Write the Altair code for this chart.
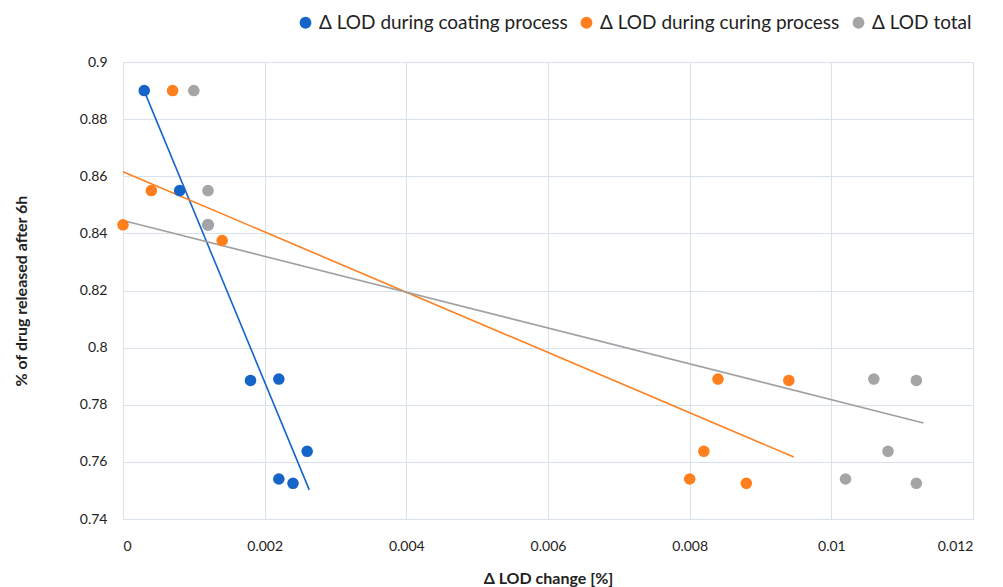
import altair as alt
import pandas as pd

series_names = ["Δ LOD during coating process", "Δ LOD during curing process", "Δ LOD total"]
series_colors = ["#1565C8", "#FF7F1E", "#A5A5A5"]
line_colors = ["#1565C8", "#FF7F1E", "#A0A0A0"]

# coating process
coat_x = [0.0003, 0.0008, 0.0012, 0.0018, 0.0022, 0.0026, 0.0022, 0.0024]
coat_y = [0.890, 0.855, 0.843, 0.7885, 0.789, 0.7637, 0.754, 0.7525]
# curing process
cure_x = [0.0007, 0.0004, 0.0, 0.0014, 0.0084, 0.0094, 0.0082, 0.0080, 0.0088]
cure_y = [0.890, 0.855, 0.843, 0.8375, 0.789, 0.7885, 0.7637, 0.754, 0.7525]
# total
tot_x = [0.0010, 0.0012, 0.0012, 0.0106, 0.0112, 0.0108, 0.0102, 0.0112]
tot_y = [0.890, 0.855, 0.843, 0.789, 0.7885, 0.7637, 0.754, 0.7525]

# linear trendline end points
trend_x0 = [0.0003, 0.0, 0.0]
trend_y0 = [0.8898, 0.8616, 0.8445]
trend_x1 = [0.00263, 0.00947, 0.0113]
trend_y1 = [0.7502, 0.7617, 0.7736]

x_ticks = [0, 0.002, 0.004, 0.006, 0.008, 0.01, 0.012]
y_ticks = [0.74, 0.76, 0.78, 0.8, 0.82, 0.84, 0.86, 0.88, 0.9]

rows = []
for name, xs, ys in zip(series_names, [coat_x, cure_x, tot_x], [coat_y, cure_y, tot_y]):
    for xv, yv in zip(xs, ys):
        rows.append({"series": name, "x": xv, "y": yv})
pts = pd.DataFrame(rows)

trows = []
for i, name in enumerate(series_names):
    trows.append({"series": name, "x": trend_x0[i], "y": trend_y0[i], "o": 0})
    trows.append({"series": name, "x": trend_x1[i], "y": trend_y1[i], "o": 1})
trend = pd.DataFrame(trows)

FONT = "Lato"
grid = "#D9E1EA"

xenc = alt.X("x:Q", scale=alt.Scale(domain=[0, 0.012], nice=False),
             axis=alt.Axis(values=x_ticks, format="~g", title="Δ LOD change [%]",
                           grid=True, gridColor=grid, domainColor=grid, ticks=False,
                           labelFontSize=14, labelPadding=20, labelColor="#222",
                           titleFontSize=16, titleFontWeight="bold", titlePadding=17,
                           titleColor="#222", labelFont=FONT, titleFont=FONT))
yenc = alt.Y("y:Q", scale=alt.Scale(domain=[0.74, 0.9], nice=False, zero=False),
             axis=alt.Axis(values=y_ticks, format="~g", title="% of drug released after 6h",
                           grid=True, gridColor=grid, domainColor=grid, ticks=False,
                           labelFontSize=14, labelPadding=16, labelColor="#222",
                           titleFontSize=16, titleFontWeight="bold", titlePadding=50,
                           titleColor="#222", labelFont=FONT, titleFont=FONT))

lines = alt.Chart(trend).mark_line(strokeWidth=1.6).encode(
    x=xenc, y=yenc, order="o:Q",
    color=alt.Color("series:N", scale=alt.Scale(domain=series_names, range=line_colors), legend=None),
    detail="series:N",
)

points = alt.Chart(pts).mark_circle(size=135, opacity=1).encode(
    x=xenc, y=yenc,
    color=alt.Color("series:N", scale=alt.Scale(domain=series_names, range=series_colors),
                    legend=alt.Legend(orient="none", legendX=173, legendY=-49, direction="horizontal",
                                      title=None, labelFontSize=19, labelFont=FONT, labelColor="#222",
                                      labelLimit=0,
                                      symbolType="circle", symbolSize=140, columnPadding=9,
                                      labelOffset=4)),
    order=alt.Order("series:N"),
)

chart = alt.layer(lines, points).resolve_scale(color="independent").properties(
    width=850, height=457
).configure_view(stroke=None).configure(background="white")

chart.save("out.html", embed_options={"renderer": "svg", "actions": False})
